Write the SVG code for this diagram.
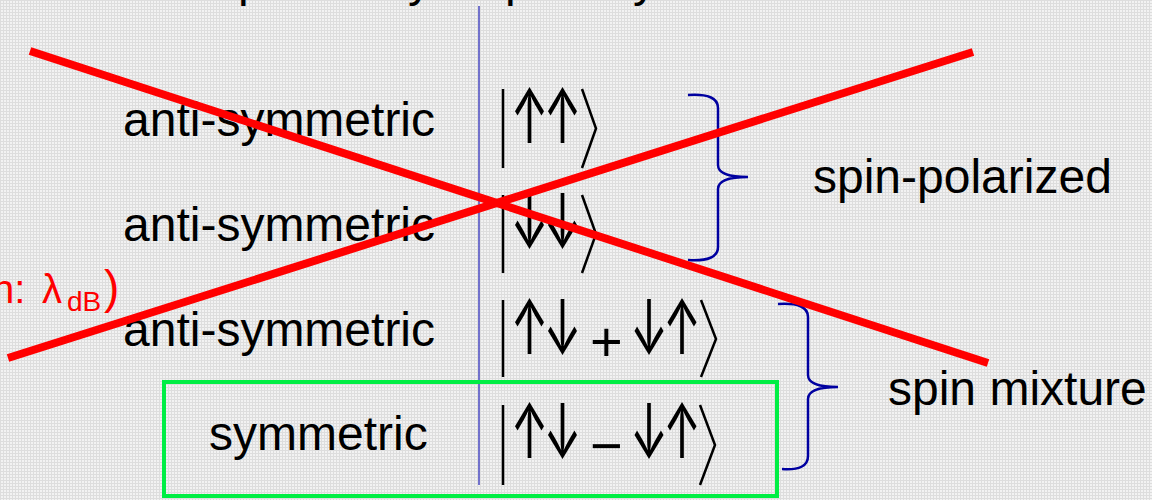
<svg xmlns="http://www.w3.org/2000/svg" width="1152" height="500" viewBox="0 0 1152 500">
<defs>
<pattern id="bg" width="3" height="3" patternUnits="userSpaceOnUse"><rect width="3" height="3" fill="#f2f2f2"/><rect width="3" height="1" fill="#dddddd"/><rect width="1" height="3" fill="#dddddd"/></pattern>
<style>
.lbl{font-family:"Liberation Sans",Arial,sans-serif;font-size:48px;fill:#000}
.ket{font-family:Inter,"DejaVu Sans",sans-serif;font-size:76px;fill:#000}
.op{font-family:"Liberation Sans",Arial,sans-serif;font-size:56px;fill:#000}
.dl{fill:none;stroke:#000;stroke-width:2.5;stroke-linejoin:miter}
.brace{fill:none;stroke:#0000a0;stroke-width:2.5}
.cross{stroke:#ff0000;stroke-width:8}
.red{font-family:"Liberation Sans",Arial,sans-serif;font-size:40px;fill:#ff0000}
</style>
</defs>
<rect width="1152" height="500" fill="url(#bg)"/>
<g id="header" class="lbl">
<text x="238" y="-4">p</text><text x="408" y="-4">y</text>
<text x="505" y="-4">p</text><text x="633" y="-4">y</text>
</g>
<g id="divider"><line x1="479" y1="6" x2="479" y2="485" stroke="#4848c0" stroke-width="1.5"/></g>
<g id="row1">
<text class="lbl" x="123" y="136">anti-symmetric</text>
<line class="dl" x1="503" y1="89" x2="503" y2="168"/>
<text class="ket" x="510.5" y="143" textLength="38" lengthAdjust="spacingAndGlyphs">↑</text>
<text class="ket" x="543.5" y="143" textLength="38" lengthAdjust="spacingAndGlyphs">↑</text>
<polyline class="dl" points="582,89 596,128.5 582,168"/>
</g>
<g id="row2">
<text class="lbl" x="123" y="241">anti-symmetric</text>
<line class="dl" x1="503" y1="195" x2="503" y2="273"/>
<text class="ket" x="510.5" y="248" textLength="38" lengthAdjust="spacingAndGlyphs">↓</text>
<text class="ket" x="543.5" y="248" textLength="38" lengthAdjust="spacingAndGlyphs">↓</text>
<polyline class="dl" points="582,195 596,234 582,273"/>
</g>
<g id="row3">
<text class="lbl" x="123" y="346">anti-symmetric</text>
<line class="dl" x1="503" y1="300" x2="503" y2="377"/>
<text class="ket" x="510.5" y="354" textLength="38" lengthAdjust="spacingAndGlyphs">↑</text>
<text class="ket" x="543.5" y="354" textLength="38" lengthAdjust="spacingAndGlyphs">↓</text>
<text class="op" x="590" y="361">+</text>
<text class="ket" x="630" y="354" textLength="38" lengthAdjust="spacingAndGlyphs">↓</text>
<text class="ket" x="663" y="354" textLength="38" lengthAdjust="spacingAndGlyphs">↑</text>
<polyline class="dl" points="701,300 716,339 701,377"/>
</g>
<g id="row4">
<text class="lbl" x="209" y="450">symmetric</text>
<line class="dl" x1="503" y1="405" x2="503" y2="485"/>
<text class="ket" x="510.5" y="458" textLength="38" lengthAdjust="spacingAndGlyphs">↑</text>
<text class="ket" x="543.5" y="458" textLength="38" lengthAdjust="spacingAndGlyphs">↓</text>
<text class="op" x="590" y="465">−</text>
<text class="ket" x="630" y="458" textLength="38" lengthAdjust="spacingAndGlyphs">↓</text>
<text class="ket" x="663" y="458" textLength="38" lengthAdjust="spacingAndGlyphs">↑</text>
<polyline class="dl" points="700,405 715,445 700,485"/>
<rect x="164" y="382" width="613" height="114" fill="none" stroke="#00ee44" stroke-width="4"/>
</g>
<g id="brace1"><path class="brace" d="M688,95 Q718,93 718,108 L718,165 Q718,177 748,177 Q718,177 718,189 L718,247 Q718,262 688,260"/></g>
<g id="label-polarized"><text class="lbl" x="813" y="193">spin-polarized</text></g>
<g id="brace2"><path class="brace" d="M778,304 Q808,302 808,317 L808,375 Q808,387 838,387 Q808,387 808,399 L808,456 Q808,471 782,469"/></g>
<g id="label-mixture"><text class="lbl" x="888" y="405">spin mixture</text></g>
<g id="red-note"><text class="red" y="303"><tspan x="-8">n:</tspan><tspan x="42">λ</tspan><tspan x="67" y="311" font-size="28">dB</tspan><tspan x="104" y="303" font-size="46">)</tspan></text></g>
<g id="cross">
<line class="cross" x1="30" y1="51" x2="988" y2="363"/>
<line class="cross" x1="8" y1="358" x2="973" y2="52"/>
</g>
</svg>
